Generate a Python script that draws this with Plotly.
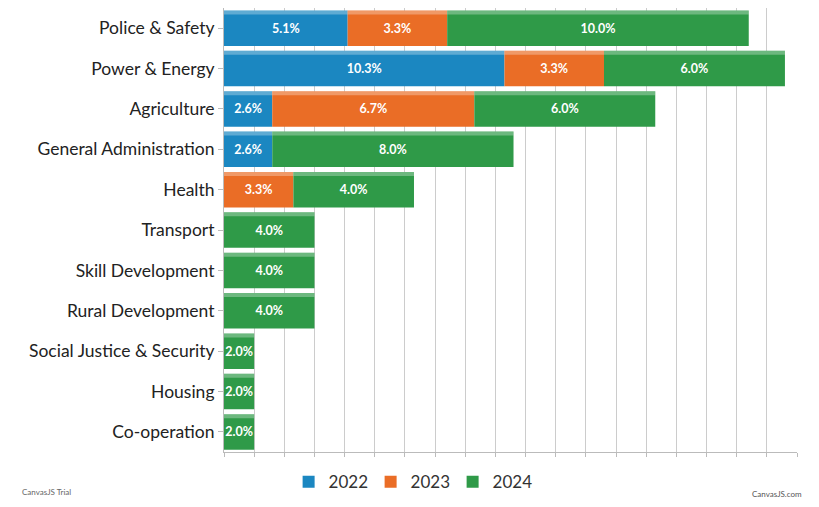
import plotly.graph_objects as go

# departments, top to bottom as in the chart
categories = [
    "Police & Safety", "Power & Energy", "Agriculture", "General Administration",
    "Health", "Transport", "Skill Development", "Rural Development",
    "Social Justice & Security", "Housing", "Co-operation",
]

# share per year (None = no bar for that year)
y2022 = [5.1, 10.3, 2.6, 2.6, None, None, None, None, None, None, None]
y2023 = [3.3, 3.3, 6.7, None, 3.3, None, None, None, None, None, None]
y2024 = [10.0, 6.0, 6.0, 8.0, 4.0, 4.0, 4.0, 4.0, 2.0, 2.0, 2.0]

series = [
    ("2022", y2022, "#1b87c1"),
    ("2023", y2023, "#ea6d26"),
    ("2024", y2024, "#2f9a48"),
]

x_min, x_max = 1, 20   # the value axis does not start at zero in the original
font_family = "Lato, 'Open Sans', sans-serif"
bar_w = 0.88

fig = go.Figure()

# stack by hand so that the first piece is cut at the axis start and
# the labels stay centred on the visible part
running = [0.0] * len(categories)
for name, vals, color in series:
    bases, lens = [], []
    for i, v in enumerate(vals):
        if v is None:
            bases.append(None)
            lens.append(None)
            continue
        start = max(running[i], x_min)
        end = running[i] + v
        bases.append(start)
        lens.append(end - start)
        running[i] = end

    fig.add_trace(go.Bar(
        y=categories, x=lens, base=bases, name=name, orientation="h",
        width=bar_w, offset=-bar_w / 2,
        marker=dict(color=color, line=dict(width=0)),
        text=[f"{v:.1f}%" if v is not None else "" for v in vals],
        textposition="inside", insidetextanchor="middle", textangle=0,
        textfont=dict(color="white", size=12.5, family=font_family, weight="bold"),
        constraintext="none", hoverinfo="skip",
    ))
    # light strip on top of each bar (the bevel look)
    fig.add_trace(go.Bar(
        y=categories, x=lens, base=bases, orientation="h",
        width=0.1, offset=-bar_w / 2,
        marker=dict(color="rgba(255,255,255,0.3)", line=dict(width=0)),
        showlegend=False, hoverinfo="skip",
    ))

fig.update_layout(
    width=819, height=507,
    barmode="overlay",
    plot_bgcolor="white", paper_bgcolor="white",
    margin=dict(l=224, r=22, t=8, b=50),
    font=dict(family=font_family, color="#333333"),
    showlegend=True,
    legend=dict(
        orientation="h", xref="container", yref="container",
        x=0.3524, y=0.049, xanchor="left", yanchor="middle",
        font=dict(size=17, color="#333333"), traceorder="normal",
        entrywidth=37, itemclick=False,
    ),
    uniformtext=dict(mode="show", minsize=12.5),
)

fig.update_xaxes(
    range=[x_min, x_max], dtick=1, tick0=0, showticklabels=False,
    showgrid=True, gridcolor="#cccccc", gridwidth=1,
    ticks="outside", ticklen=4, tickcolor="#bbbbbb",
    showline=True, linecolor="#bbbbbb", linewidth=1,
    zeroline=False, fixedrange=True,
)
fig.update_yaxes(
    categoryorder="array", categoryarray=categories, autorange="reversed",
    ticks="outside", ticklen=5, tickcolor="#bbbbbb",
    tickfont=dict(size=17.5, color="#222222"),
    showline=True, linecolor="#bbbbbb", linewidth=1,
    showgrid=False, fixedrange=True,
)

fig.add_annotation(text="CanvasJS Trial", xref="paper", yref="paper",
                   x=-0.356, y=-0.089, xanchor="left", yanchor="middle",
                   showarrow=False, font=dict(size=8, color="#666666"))
fig.add_annotation(text="CanvasJS.com", xref="paper", yref="paper",
                   x=1.012, y=-0.094, xanchor="right", yanchor="middle",
                   showarrow=False, font=dict(size=8, color="#555555"))

# the page adds an 8px body margin; drop it so the chart sits at 0,0
fig.write_html("out.html", config={"displayModeBar": False},
               post_script="document.body.style.margin='0';")
